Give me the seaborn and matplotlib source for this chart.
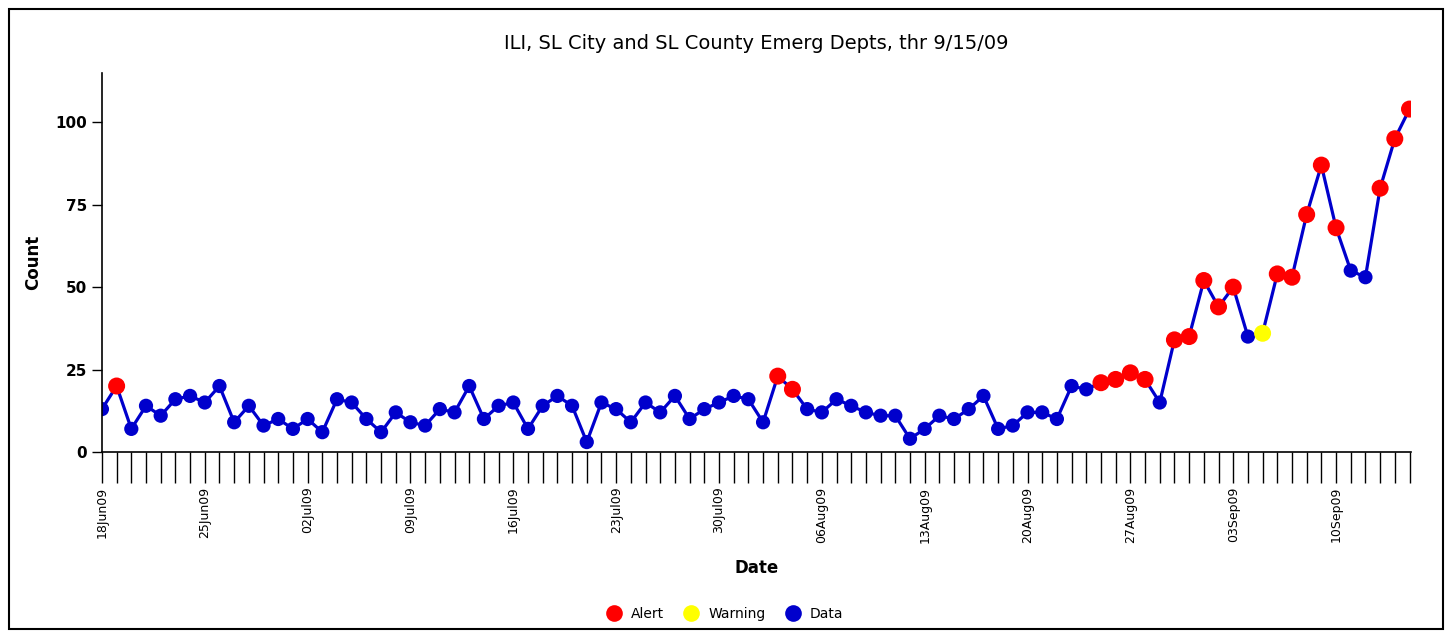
import matplotlib
matplotlib.use("Agg")
import matplotlib.pyplot as plt
import matplotlib.dates as mdates
from matplotlib.patches import Rectangle
import seaborn as sns
import pandas as pd

# daily ILI counts, 18 Jun 2009 - 15 Sep 2009
jun = [13, 20, 7, 14, 11, 16, 17, 15, 20, 9, 14, 8, 10]
jul = [7, 10, 6, 16, 15, 10, 6, 12, 9, 8, 13, 12, 20, 10, 14, 15, 7, 14, 17, 14,
       3, 15, 13, 9, 15, 12, 17, 10, 13, 15, 17]
aug = [16, 9, 23, 19, 13, 12, 16, 14, 12, 11, 11, 4, 7, 11, 10, 13, 17, 7, 8, 12,
       12, 10, 20, 19, 21, 22, 24, 22, 15, 34, 35]
sep = [52, 44, 50, 35, 36, 54, 53, 72, 87, 68, 55, 53, 80, 95, 104]

alert_dates = ["2009-06-19", "2009-08-03", "2009-08-04", "2009-08-25", "2009-08-26",
               "2009-08-27", "2009-08-28", "2009-08-30", "2009-08-31", "2009-09-01",
               "2009-09-02", "2009-09-03", "2009-09-06", "2009-09-07", "2009-09-08",
               "2009-09-09", "2009-09-10", "2009-09-13", "2009-09-14", "2009-09-15"]
warning_dates = ["2009-09-05"]

counts = jun + jul + aug + sep
dates = pd.date_range("2009-06-18", periods=len(counts), freq="D")
df = pd.DataFrame({"Date": dates, "Count": counts})
df["Status"] = "Data"
df.loc[df["Date"].isin(pd.to_datetime(alert_dates)), "Status"] = "Alert"
df.loc[df["Date"].isin(pd.to_datetime(warning_dates)), "Status"] = "Warning"

palette = {"Alert": "#FF0000", "Warning": "#FFFF00", "Data": "#0000CC"}
sizes = {"Alert": 150, "Warning": 150, "Data": 105}

sns.set_style("white")
plt.rcParams["text.color"] = "black"
plt.rcParams["axes.labelcolor"] = "black"

fig = plt.figure(figsize=(14.52, 6.33), dpi=100)
ax = fig.add_axes([0.0702, 0.286, 0.9018, 0.599])

sns.lineplot(data=df, x="Date", y="Count", color="#0000CC", linewidth=2.3, ax=ax,
             zorder=1)
sns.scatterplot(data=df, x="Date", y="Count", hue="Status", size="Status",
                hue_order=["Alert", "Warning", "Data"], palette=palette,
                sizes=sizes, linewidth=0, ax=ax, zorder=2, legend=False)

ax.set_xlim(dates[0], dates[-1] + pd.Timedelta(hours=3))
ax.set_ylim(0, 115)
ax.set_yticks([0, 25, 50, 75, 100])
ax.tick_params(axis="y", left=True, length=7, width=1, labelsize=11, colors="black")
for lab in ax.get_yticklabels():
    lab.set_fontweight("bold")

ax.set_xticks(dates[::7])
ax.set_xticks(dates, minor=True)
ax.xaxis.set_major_formatter(mdates.DateFormatter("%d%b%y"))
ax.tick_params(axis="x", which="both", bottom=True, length=22, width=1, colors="black")
ax.tick_params(axis="x", which="major", labelsize=9, labelrotation=90, pad=3)

sns.despine(ax=ax)
for s in ["left", "bottom"]:
    ax.spines[s].set_color("black")
    ax.spines[s].set_linewidth(1.2)

ax.set_xlabel("Date", fontsize=12, fontweight="bold", labelpad=12)
ax.set_ylabel("Count", fontsize=12, fontweight="bold", labelpad=10)
ax.set_title("ILI, SL City and SL County Emerg Depts, thr 9/15/09", fontsize=14,
             pad=17, color="black")

handles = [plt.Line2D([], [], marker="o", linestyle="", markersize=12,
                      markerfacecolor=palette[k], markeredgewidth=0)
           for k in ["Alert", "Warning", "Data"]]
fig.legend(handles, ["Alert", "Warning", "Data"], loc="center",
           bbox_to_anchor=(0.497, 0.03), ncol=3, frameon=False, fontsize=10,
           handletextpad=0.2, columnspacing=1.0)

fig.patches.append(Rectangle((0.006, 0.006), 0.988, 0.98, transform=fig.transFigure,
                             fill=False, edgecolor="black", linewidth=1.5))

fig.savefig("out.png", dpi=100)
